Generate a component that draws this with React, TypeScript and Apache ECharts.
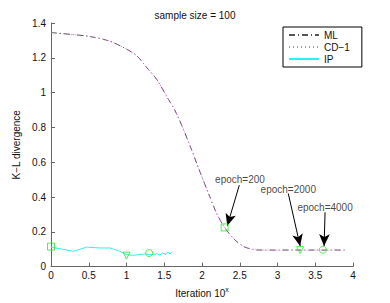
import React, { useEffect, useRef } from "react";
import * as echarts from "echarts";

const titleText = "sample size = 100";
const xTicks = { min: 0, max: 4, interval: 0.5 };
const yTicks = { min: 0, max: 1.4, interval: 0.2 };

const mlX = [0, 0.25, 0.52, 0.78, 1.0, 1.14, 1.27, 1.4, 1.53, 1.665, 1.84, 1.97, 2.1, 2.2, 2.3, 2.42, 2.55, 2.68, 2.8, 3.0, 3.5, 3.9];
const mlY = [1.345, 1.335, 1.322, 1.295, 1.25, 1.21, 1.143, 1.076, 0.98, 0.877, 0.696, 0.548, 0.405, 0.3, 0.225, 0.16, 0.116, 0.098, 0.095, 0.095, 0.095, 0.095];
const cdY = [1.345, 1.335, 1.322, 1.295, 1.25, 1.21, 1.143, 1.076, 0.98, 0.877, 0.696, 0.548, 0.405, 0.3, 0.225, 0.16, 0.116, 0.098, 0.095, 0.095, 0.095, 0.095];

const ipX = [0, 0.15, 0.3, 0.47, 0.65, 0.78, 0.91, 1.0, 1.09, 1.18, 1.25, 1.31, 1.36, 1.4, 1.44, 1.48, 1.52, 1.55, 1.58, 1.6];
const ipY = [0.112, 0.1, 0.088, 0.112, 0.107, 0.107, 0.088, 0.068, 0.065, 0.07, 0.072, 0.07, 0.068, 0.075, 0.066, 0.078, 0.07, 0.082, 0.072, 0.085];

const squarePts = [[0, 0.115], [2.3, 0.225]];
const trianglePts = [[1.0, 0.063], [3.3, 0.095]];
const circlePts = [[1.3, 0.078], [3.6, 0.097]];

const noteLabels = ["epoch=200", "epoch=2000", "epoch=4000"];
const notePos = [[2.503, 0.5], [3.143, 0.443], [3.63, 0.34]];
const arrowFrom = [[2.494, 0.468], [3.143, 0.42], [3.63, 0.312]];
const arrowTo = [[2.335, 0.235], [3.3, 0.118], [3.617, 0.118]];

const FONT = "'Liberation Sans', Arial, Helvetica, sans-serif";
const GREEN = "#22ee22";

export default function App() {
  const ref = useRef<HTMLDivElement>(null);
  useEffect(() => {
    const chart = echarts.init(ref.current!, null, { renderer: "svg" });
    const zip = (xs: number[], ys: number[]) => xs.map((x, i) => [x, ys[i]]);
    const markerSeries = (name: string, symbol: string, data: number[][], rotate = 0) => ({
      name,
      type: "scatter",
      symbol,
      symbolSize: 7,
      symbolRotate: rotate,
      data,
      itemStyle: { color: "rgba(0,0,0,0)", borderColor: GREEN, borderWidth: 1 },
      z: 5,
    });
    chart.setOption({
      animation: false,
      textStyle: { fontFamily: FONT },
      title: {
        text: titleText,
        left: "center",
        top: 5,
        textStyle: { fontSize: 10, fontWeight: "normal", color: "#111", fontFamily: FONT },
      },
      grid: { left: 51, right: 37, top: 23, bottom: 34 },
      legend: {
        orient: "vertical",
        left: 283,
        top: 27,
        width: 66,
        backgroundColor: "#fff",
        borderColor: "#000",
        borderWidth: 1,
        padding: [3, 12, 3, 5],
        itemGap: 2,
        itemWidth: 30,
        itemHeight: 10,
        itemStyle: { opacity: 0 },
        data: ["ML", "CD\u22121", "IP"],
        textStyle: { fontSize: 10, color: "#111", fontFamily: FONT },
      },
      xAxis: {
        type: "value",
        ...xTicks,
        name: "Iteration 10{s|x}",
        nameLocation: "middle",
        nameGap: 16,
        nameTextStyle: {
          fontSize: 10,
          color: "#111",
          fontFamily: FONT,
          rich: { s: { fontSize: 7, verticalAlign: "top", padding: [0, 0, 8, 0], color: "#111" } },
        },
        axisLine: { lineStyle: { color: "#666" } },
        axisTick: { inside: true, length: 4, lineStyle: { color: "#666" } },
        axisLabel: { fontSize: 10, color: "#111", margin: 4 },
        splitLine: { show: false },
      },
      yAxis: {
        type: "value",
        ...yTicks,
        name: "K\u2212L divergence",
        nameLocation: "middle",
        nameGap: 22,
        nameTextStyle: { fontSize: 10, color: "#111", fontFamily: FONT },
        axisLine: { show: true, lineStyle: { color: "#666" } },
        axisTick: { show: true, inside: true, length: 4, lineStyle: { color: "#666" } },
        axisLabel: { fontSize: 10, color: "#111", margin: 5 },
        splitLine: { show: false },
      },
      series: [
        {
          name: "ML",
          type: "line",
          data: zip(mlX, mlY),
          smooth: 0.3,
          symbol: "none",
          lineStyle: { color: "#555", width: 1, type: [6, 3, 1, 3] },
          itemStyle: { color: "#555" },
          z: 3,
        },
        {
          name: "CD\u22121",
          type: "line",
          data: zip(mlX, cdY),
          smooth: 0.3,
          symbol: "none",
          lineStyle: { color: "#ee66ee", width: 1, type: [1, 3] },
          itemStyle: { color: "#ee66ee" },
          z: 4,
        },
        {
          name: "IP",
          type: "line",
          data: zip(ipX, ipY),
          symbol: "none",
          lineStyle: { color: "#33eeee", width: 1 },
          itemStyle: { color: "#33eeee" },
          z: 3,
        },
        markerSeries("sq", "rect", squarePts),
        markerSeries("tri", "triangle", trianglePts, 180),
        markerSeries("circ", "circle", circlePts),
        {
          name: "notes",
          type: "scatter",
          symbolSize: 0,
          data: notePos.map((p, i) => [p[0], p[1], noteLabels[i]]),
          label: {
            show: true,
            position: "inside",
            fontSize: 10,
            color: "#111",
            fontFamily: FONT,
            formatter: (p: any) => p.data[2],
          },
          markLine: {
            silent: true,
            symbolSize: [8, 12],
            label: { show: false },
            lineStyle: { color: "#000", width: 1, type: "solid" },
            data: arrowFrom.map((f, i) => [
              { coord: f, symbol: "none" },
              { coord: arrowTo[i], symbol: "arrow" },
            ]),
          },
          z: 6,
        },
      ],
    });
    return () => chart.dispose();
  }, []);
  return (
    <div
      ref={ref}
      style={{ position: "absolute", left: 0, top: 0, width: 390, height: 303, background: "#fff" }}
    />
  );
}
